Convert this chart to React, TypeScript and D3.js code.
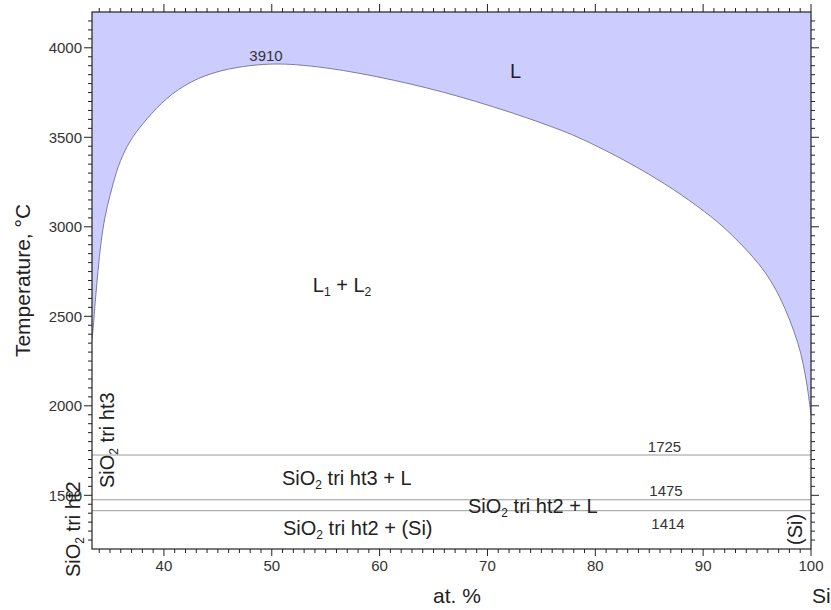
import React from "react";
import * as d3 from "d3";

// ---- data ----
const xDomain = [33.33, 100];
const tDomain = [1200, 4200];
const xMajorTicks = [40, 50, 60, 70, 80, 90, 100];
const yMajorTicks = [1500, 2000, 2500, 3000, 3500, 4000];
const xMinorStep = 1;
const yMinorStep = 50;

// boundary of the liquid (L) field / miscibility gap dome: [at.% Si, T °C]
const domeX = [33.33, 33.43, 33.64, 33.89, 34.14, 34.51, 34.97, 35.59, 36.37, 37.29, 38.83, 40.69, 43.16, 45.94, 48.9, 50.5, 52.0, 55.1, 58.18, 61.27, 64.37, 67.46, 70.54, 73.64, 76.73, 78.0, 81.06, 84.13, 87.23, 90.33, 92.18, 94.35, 95.89, 97.13, 98.05, 98.82, 99.29, 99.66, 99.91, 100];
const domeT = [2370, 2423, 2591, 2759, 2909, 3056, 3168, 3315, 3429, 3522, 3634, 3746, 3835, 3885, 3908, 3910, 3908, 3889, 3858, 3820, 3777, 3727, 3671, 3610, 3542, 3512, 3425, 3325, 3212, 3078, 2985, 2852, 2740, 2609, 2479, 2349, 2237, 2107, 1995, 1950];

const isotherms = [1725, 1475, 1414];
const peakT = 3910;

const FONT = "'Liberation Sans', Arial, Helvetica, sans-serif";
const TXT = "#333";

export default function App() {
  const W = 831, H = 610;
  const x = d3.scaleLinear().domain(xDomain).range([92, 811]);
  const y = d3.scaleLinear().domain(tDomain).range([549, 12]);
  const [x0, x1] = x.range();
  const [yb, yt] = y.range();

  const pts = domeX.map((v, i) => ({ x: v, t: domeT[i] }));
  const area = d3
    .area<{ x: number; t: number }>()
    .x((d) => x(d.x))
    .y0(y(tDomain[1]))
    .y1((d) => y(d.t))
    .curve(d3.curveBasis);
  const line = d3
    .line<{ x: number; t: number }>()
    .x((d) => x(d.x))
    .y((d) => y(d.t))
    .curve(d3.curveBasis);

  const xMinor = d3.range(Math.ceil(xDomain[0]), xDomain[1] + 0.001, xMinorStep).filter((v) => !xMajorTicks.includes(v));
  const yMinor = d3.range(tDomain[0] + yMinorStep, tDomain[1], yMinorStep).filter((v) => !yMajorTicks.includes(v));

  const big = 20;
  const small = 15;
  const sub = 12;

  const Sub = ({ c }: { c: string }) => (
    <tspan fontSize={sub} dy={4}>{c}</tspan>
  );

  return (
    <svg width={W} height={H} style={{ position: "absolute", left: 0, top: 0, background: "#fff" }} fontFamily={FONT}>
      <rect x={0} y={0} width={W} height={H} fill="#fff" />
      <clipPath id="plot">
        <rect x={x0} y={yt} width={x1 - x0} height={yb - yt} />
      </clipPath>
      <g clipPath="url(#plot)">
        <path d={area(pts) || ""} fill="#ccccff" stroke="none" />
        <path d={line(pts) || ""} fill="none" stroke="#7c7ca0" strokeWidth={1} />
        {isotherms.map((t) => (
          <line key={t} x1={x0} x2={x1} y1={y(t)} y2={y(t)} stroke="#9a9a9a" strokeWidth={1} />
        ))}
      </g>

      {/* frame */}
      <rect x={x0} y={yt} width={x1 - x0} height={yb - yt} fill="none" stroke="#222" strokeWidth={1.2} />

      {/* x ticks bottom & top */}
      {xMajorTicks.map((v) => (
        <g key={"xm" + v}>
          <line x1={x(v)} x2={x(v)} y1={yb} y2={yb + 7} stroke="#222" />
          <line x1={x(v)} x2={x(v)} y1={yt} y2={yt - 8} stroke="#222" />
          <text x={x(v)} y={yb + 22} textAnchor="middle" fontSize={small} fill={TXT}>{v}</text>
        </g>
      ))}
      {xMinor.map((v) => (
        <g key={"xn" + v}>
          <line x1={x(v)} x2={x(v)} y1={yb} y2={yb + 4} stroke="#222" />
          <line x1={x(v)} x2={x(v)} y1={yt} y2={yt - 4} stroke="#222" />
        </g>
      ))}

      {/* y ticks left & right */}
      {yMajorTicks.map((v) => (
        <g key={"ym" + v}>
          <line x1={x0} x2={x0 - 8} y1={y(v)} y2={y(v)} stroke="#222" />
          <line x1={x1} x2={x1 + 8} y1={y(v)} y2={y(v)} stroke="#222" />
          <text x={x0 - 10} y={y(v)} dy="0.35em" textAnchor="end" fontSize={small} fill={TXT}>{v}</text>
        </g>
      ))}
      {yMinor.map((v) => (
        <g key={"yn" + v}>
          <line x1={x0} x2={x0 - 4} y1={y(v)} y2={y(v)} stroke="#222" />
          <line x1={x1} x2={x1 + 4} y1={y(v)} y2={y(v)} stroke="#222" />
        </g>
      ))}

      {/* axis titles */}
      <text transform={`translate(30,${(yb + yt) / 2}) rotate(-90)`} textAnchor="middle" fontSize={21} fill="#222">
        Temperature, °C
      </text>
      <text x={457} y={603} textAnchor="middle" fontSize={21} fill="#222">at. %</text>
      <text x={812} y={603} textAnchor="start" fontSize={21} fill="#222">Si</text>

      {/* value labels */}
      <text x={266} y={61} textAnchor="middle" fontSize={small} fill={TXT}>{peakT}</text>
      {isotherms.map((t, i) => (
        <text key={"il" + t} x={[664.5, 666, 668][i]} y={[452, 496, 528.5][i]} textAnchor="middle" fontSize={small} fill={TXT}>
          {t}
        </text>
      ))}

      {/* phase labels */}
      <text x={510} y={78} fontSize={big} fill="#222">L</text>
      <text x={342} y={292} textAnchor="middle" fontSize={big} fill="#222">
        L<Sub c="1" /><tspan dy={-4}> + L</tspan><Sub c="2" />
      </text>
      <text x={282} y={485} fontSize={big} fill="#222">
        SiO<Sub c="2" /><tspan dy={-4}> tri ht3 + L</tspan>
      </text>
      <text x={468} y={513} fontSize={big} fill="#222">
        SiO<Sub c="2" /><tspan dy={-4}> tri ht2 + L</tspan>
      </text>
      <text x={283} y={535} fontSize={big} fill="#222">
        SiO<Sub c="2" /><tspan dy={-4}> tri ht2 + (Si)</tspan>
      </text>
      <text transform="translate(114,488) rotate(-90)" fontSize={big} fill="#222">
        SiO<Sub c="2" /><tspan dy={-4}> tri ht3</tspan>
      </text>
      <text transform="translate(80,577) rotate(-90)" fontSize={big} fill="#222">
        SiO<Sub c="2" /><tspan dy={-4}> tri ht2</tspan>
      </text>
      <text transform="translate(802,545) rotate(-90)" fontSize={big} fill="#222">(Si)</text>
    </svg>
  );
}
